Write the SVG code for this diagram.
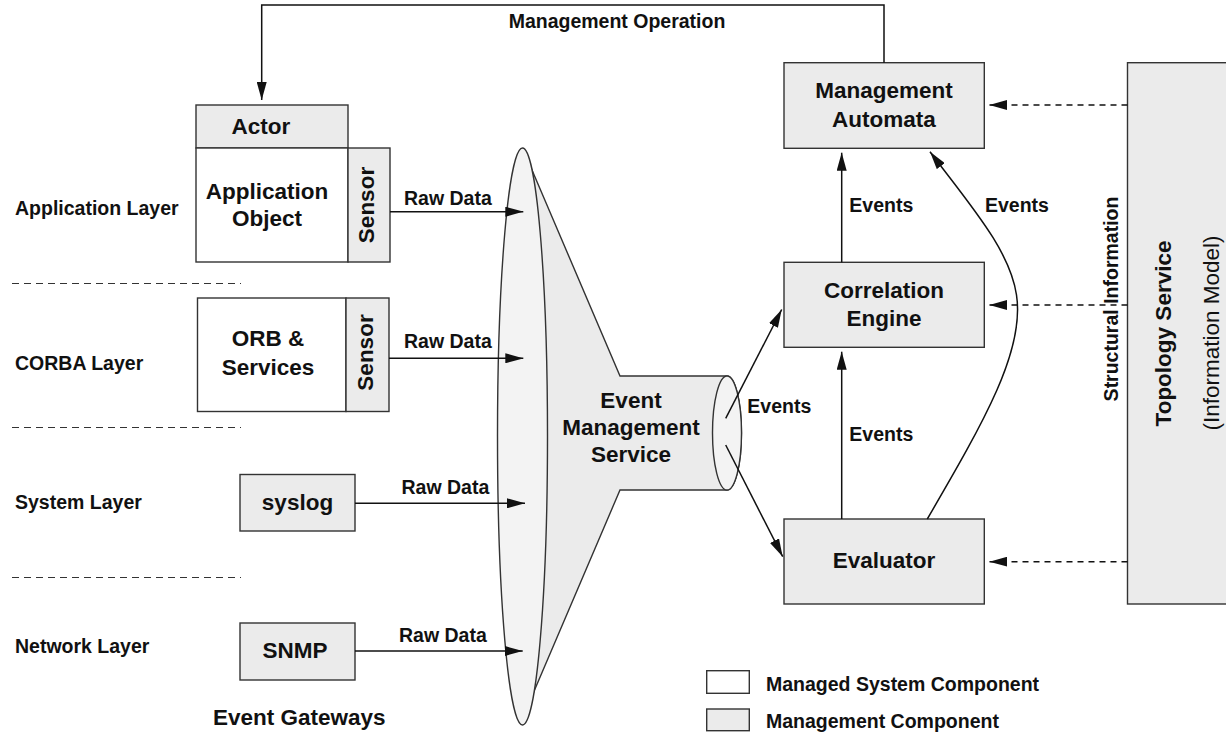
<svg xmlns="http://www.w3.org/2000/svg" width="1226" height="733" viewBox="0 0 1226 733">
<defs>
<style>
text{font-family:"Liberation Sans",Arial,Helvetica,sans-serif;fill:#111}
.s{font-size:19.5px;font-weight:bold}
.l{font-size:22.5px;font-weight:bold}
.r{font-size:22.5px;font-weight:normal}
.mid{text-anchor:middle}
.box{stroke:#333;stroke-width:1.4}
.g{fill:#ebebeb}
.w{fill:#fff}
.ln{fill:none;stroke:#111;stroke-width:1.5}
.ar{marker-end:url(#ah)}
.dash{stroke-dasharray:6,5}
.sep{fill:none;stroke:#333;stroke-width:1.2;stroke-dasharray:7,5}
</style>
<marker id="ah" markerUnits="userSpaceOnUse" markerWidth="18" markerHeight="10" refX="18" refY="5" orient="auto">
<path d="M0,0 L18,5 L0,10 Z" fill="#111"/>
</marker>
</defs>
<rect width="1226" height="733" fill="#fff"/>

<g id="layers">
<line class="sep" x1="12" y1="283.5" x2="241" y2="283.5"/>
<line class="sep" x1="12" y1="427.5" x2="241" y2="427.5"/>
<line class="sep" x1="12" y1="577.5" x2="241" y2="577.5"/>
<text class="s" x="15" y="215">Application Layer</text>
<text class="s" x="15" y="370">CORBA Layer</text>
<text class="s" x="15" y="509">System Layer</text>
<text class="s" x="15" y="653">Network Layer</text>
</g>

<g id="event-management-service">
<path class="box g" d="M529,163 L620,376 L727,376 A14.5,57 0 0,1 727,490 L620,490 L529,703 Z"/>
<ellipse class="box" cx="522.5" cy="436.5" rx="25" ry="288.5" fill="#f3f3f3"/>
<ellipse class="box" cx="727" cy="433" rx="14.5" ry="57" fill="#f3f3f3"/>
<text class="l mid" x="631" y="408">Event</text>
<text class="l mid" x="631" y="435">Management</text>
<text class="l mid" x="631" y="462">Service</text>
</g>

<g id="actor">
<rect class="box g" x="196" y="105" width="152" height="43"/>
<text class="l mid" x="261" y="134">Actor</text>
</g>
<g id="application-object">
<rect class="box w" x="196" y="148" width="152" height="114"/>
<text class="l mid" x="267" y="199">Application</text>
<text class="l mid" x="267" y="226">Object</text>
</g>
<g id="app-sensor">
<rect class="box g" x="348" y="148" width="42" height="114"/>
<text class="l mid" transform="translate(374,205) rotate(-90)">Sensor</text>
</g>
<g id="orb-services">
<rect class="box w" x="197.5" y="298" width="148.5" height="113.5"/>
<text class="l mid" x="268" y="346">ORB &amp;</text>
<text class="l mid" x="268" y="375">Services</text>
</g>
<g id="orb-sensor">
<rect class="box g" x="346" y="298" width="43" height="113.5"/>
<text class="l mid" transform="translate(373,352.5) rotate(-90)">Sensor</text>
</g>
<g id="syslog">
<rect class="box g" x="240" y="474.5" width="115" height="56.5"/>
<text class="l mid" x="297.5" y="510">syslog</text>
</g>
<g id="snmp">
<rect class="box g" x="240" y="623" width="115" height="57"/>
<text class="l mid" x="295" y="658">SNMP</text>
</g>
<text class="l" x="213" y="725">Event Gateways</text>

<g id="management-automata">
<rect class="box g" x="784" y="62.7" width="200.3" height="85.6"/>
<text class="l mid" x="884" y="98">Management</text>
<text class="l mid" x="884" y="127">Automata</text>
</g>
<g id="correlation-engine">
<rect class="box g" x="784" y="262.3" width="200.3" height="85"/>
<text class="l mid" x="884" y="298">Correlation</text>
<text class="l mid" x="884" y="325.5">Engine</text>
</g>
<g id="evaluator">
<rect class="box g" x="784" y="519" width="200.3" height="85"/>
<text class="l mid" x="884" y="568">Evaluator</text>
</g>
<g id="topology-service">
<rect class="box g" x="1127.5" y="62.7" width="110" height="541.3"/>
<text class="l mid" transform="translate(1171,333.5) rotate(-90)">Topology Service</text>
<text class="r mid" transform="translate(1219,333) rotate(-90)">(Information Model)</text>
</g>

<g id="connectors">
<polyline class="ln ar" points="884,62.7 884,5 261.7,5 261.7,100"/>
<text class="s mid" x="617" y="28">Management Operation</text>

<line class="ln ar" x1="390" y1="211.7" x2="523.3" y2="211.7"/>
<text class="s" x="404" y="205">Raw Data</text>
<line class="ln ar" x1="389" y1="358.3" x2="523.3" y2="358.3"/>
<text class="s" x="404" y="348">Raw Data</text>
<line class="ln ar" x1="355" y1="503.3" x2="525" y2="503.3"/>
<text class="s" x="401.5" y="494">Raw Data</text>
<line class="ln ar" x1="355" y1="651" x2="522.7" y2="651"/>
<text class="s" x="399" y="642">Raw Data</text>

<line class="ln ar" x1="725.7" y1="418.3" x2="781.7" y2="309.5"/>
<line class="ln ar" x1="725.7" y1="445" x2="782.7" y2="556.7"/>
<text class="s" x="747.3" y="412.7">Events</text>

<line class="ln ar" x1="841.7" y1="262.3" x2="841.7" y2="152.7"/>
<text class="s" x="849.3" y="211.7">Events</text>
<line class="ln ar" x1="841.7" y1="519" x2="841.7" y2="351.7"/>
<text class="s" x="849.3" y="440.7">Events</text>
<path class="ln ar" d="M927.3,519 C985,420 1025,350 1016.5,295 C1010,250 970,205 930,151.7"/>
<text class="s" x="985" y="211.7">Events</text>

<line class="ln ar dash" x1="1127.5" y1="105" x2="989.3" y2="105"/>
<line class="ln ar dash" x1="1127.5" y1="305" x2="989.3" y2="305"/>
<line class="ln ar dash" x1="1127.5" y1="561.7" x2="989.3" y2="561.7"/>
<text class="s mid" transform="translate(1118,299) rotate(-90)">Structural Information</text>
</g>

<g id="legend">
<rect class="box w" x="706.7" y="670.7" width="42.6" height="22.6"/>
<text class="s" x="766" y="691">Managed System Component</text>
<rect class="box g" x="706.7" y="709" width="42.6" height="21.7"/>
<text class="s" x="766" y="728">Management Component</text>
</g>
</svg>
